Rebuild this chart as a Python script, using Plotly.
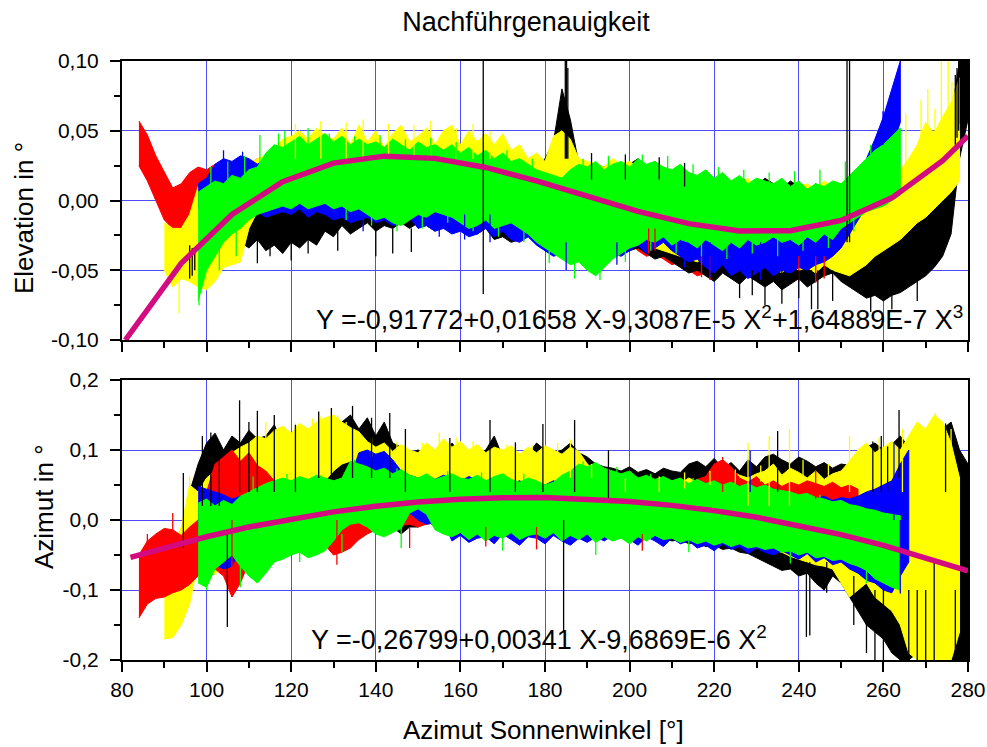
import plotly.graph_objects as go

# ---------------- data (values in milli-degrees) ----------------
# Elevation panel: bands (upper / lower envelope), sampled every 2 deg from the start value
el_red_x0 = 84
el_red_hi = [57, 47, 32, 20, 9, 12, 20, 24, 22, 26,
             24, 22, 28, 26, 30, 28, 27, 30, 28, 30,
             26, 32, 34, 38, 36, 40, 44, 42, 40, 38,
             42, 36, 30, 34, 28, 30, 26, 24, 22, 20,
             24, 18, 22, 16, 18, 14, 16, 20, 22, 18,
             24, 20, 22, 24, 20, 22, 18, 24, 26, 20,
             16, 12, 14, 10, 8, 6, 4, 6, 2, 8,
             14, 10, 6, 12, 4, 8, 2, 6, -2, 4,
             0, -4, -8]
el_red_lo = [25, 14, 0, -14, -20, -22, -12, -8, -6, -10,
             -8, -12, -6, -10, -4, -8, -6, -2, -8, -4,
             -6, -2, -6, -4, -8, -6, -10, -8, -12, -6,
             -10, -12, -14, -10, -8, -12, -10, -14, -16, -12,
             -18, -20, -16, -22, -18, -24, -20, -26, -28, -24,
             -30, -26, -28, -24, -30, -32, -28, -34, -30, -36,
             -40, -38, -42, -46, -44, -50, -54, -52, -56, -50,
             -46, -52, -48, -54, -50, -56, -52, -58, -54, -56,
             -52, -54, -50]

el_yel_x0 = 90
el_yel_hi = [-16, -20, -20, -10, 10, 14, 18, 20, 22, 24,
             26, 30, 32, 36, 44, 46, 50, 44, 52, 46,
             44, 52, 40, 54, 42, 50, 38, 48, 54, 42,
             46, 52, 40, 50, 54, 40, 50, 42, 48, 40,
             48, 36, 40, 30, 34, 28, 46, 50, 44, 30,
             28, 26, 24, 30, 26, 28, 24, 22, 26, 20,
             18, 16, 20, 14, 12, 16, 10, 14, 12, 16,
             8, 12, 10, 14, 6, 10, 12, 8, 14, 10,
             12, 16, 14, 18, 16, 20, 24, 22, 30, 40,
             56, 48, 60, 70, 88]
el_yel_lo = [-50, -62, -56, -58, -62, -64, -58, -48, -46, -44,
             -20, -8, -4, -4, -2, -2, -4, -2, -6, -2,
             -6, -2, -4, -6, -2, -4, -2, -6, -4, -2,
             -6, -4, -8, -6, -4, -10, -8, -12, -10, -14,
             -12, -16, -14, -12, -10, -14, -12, -16, -18, -20,
             -22, -24, -26, -22, -28, -24, -30, -32, -34, -36,
             -38, -40, -42, -44, -40, -46, -44, -48, -42, -46,
             -50, -44, -48, -52, -46, -50, -48, -52, -46, -50,
             -52, -54, -50, -46, -40, -36, -32, -28, -22, -16,
             -12, -6, 0, 6, 14]

el_blk_x0 = 108
el_blk_hi = [-4, 0, -2, 0, 2, 4, 0, 6, 4, 8,
             6, 10, 8, 10, 12, 8, 10, 6, 8, 10,
             12, 8, 10, 8, 6, 10, 8, 6, 4, 8,
             10, 14, 16, 18, 20, 24, 30, 42, 80, 58,
             26, 22, 26, 24, 28, 22, 26, 30, 24, 28,
             22, 20, 24, 18, 16, 20, 14, 18, 12, 16,
             14, 10, 16, 12, 8, 14, 10, 6, 12, 8,
             4, -2, -10, -20, -24, -22, -26, -20, -18, -14,
             -12, -8, 0, 10, 60, 100, 112]
el_blk_lo = [-30, -34, -28, -36, -32, -38, -30, -34, -28, -32,
             -22, -26, -18, -24, -20, -16, -22, -18, -20, -16,
             -20, -16, -18, -22, -16, -20, -18, -22, -24, -20,
             -28, -26, -30, -28, -26, -24, -20, -16, -18, -22,
             -26, -30, -28, -32, -30, -34, -36, -34, -38, -42,
             -40, -44, -48, -52, -50, -54, -58, -52, -56, -60,
             -54, -58, -62, -58, -64, -60, -56, -62, -58, -54,
             -52, -58, -62, -66, -70, -68, -72, -68, -66, -62,
             -58, -54, -48, -40, -24, 30, 58]

el_blu_x0 = 98
el_blu_hi = [12, 16, 26, 30, 28, 32, 30, 26, 30, 24,
             20, 22, 18, 24, 20, 26, 22, 24, 20, 22,
             20, 24, 22, 18, 22, 20, 24, 18, 22, 20,
             18, 22, 20, 16, 18, 14, 16, 12, 10, 12,
             14, 10, 12, 16, 14, 10, 12, 14, 12, 10,
             14, 12, 16, 10, 14, 12, 10, 8, 12, 6,
             10, 4, 8, 6, 2, 6, 4, 8, 2, 6,
             4, 8, 2, 6, 4, 8, 10, 14, 18, 30,
             44, 60, 80, 100]
el_blu_lo = [-6, -8, -4, -10, -8, -6, -10, -8, -12, -10,
             -8, -10, -6, -12, -8, -10, -14, -12, -16, -14,
             -12, -16, -14, -18, -16, -12, -20, -18, -22, -20,
             -24, -22, -26, -24, -20, -26, -22, -28, -30, -26,
             -32, -36, -40, -38, -44, -42, -46, -40, -44, -38,
             -40, -36, -32, -38, -34, -30, -36, -40, -44, -42,
             -48, -52, -46, -54, -50, -56, -52, -48, -54, -50,
             -52, -48, -50, -46, -44, -40, -34, -24, -14, -4,
             8, 22, 38, 56]

el_grn_x0 = 98
el_grn_hi = [6, 10, 14, 12, 18, 16, 22, 24, 34, 40,
             38, 42, 46, 40, 44, 48, 42, 46, 40, 44,
             40, 42, 38, 44, 40, 36, 42, 38, 40, 36,
             40, 34, 38, 32, 36, 30, 34, 28, 30, 26,
             22, 20, 18, 16, 22, 26, 24, 28, 22, 26,
             28, 24, 30, 26, 28, 24, 22, 26, 20, 18,
             22, 16, 20, 14, 18, 12, 16, 14, 12, 16,
             10, 14, 8, 12, 10, 14, 12, 18, 24, 30,
             36, 40, 46, 52]
el_grn_lo = [-72, -50, -40, -30, -24, -20, -14, -10, -8, -6,
             -4, -6, -2, -6, -4, -2, -6, -4, -8, -6,
             -10, -14, -12, -16, -18, -14, -10, -12, -8, -10,
             -12, -16, -20, -18, -14, -20, -18, -16, -20, -24,
             -30, -34, -38, -42, -46, -44, -50, -54, -48, -42,
             -38, -34, -32, -28, -30, -26, -32, -28, -30, -34,
             -28, -32, -36, -30, -34, -28, -32, -30, -26, -30,
             -28, -32, -26, -30, -24, -28, -20, -16, -12, -8,
             -6, -4, 0, 4]

# Elevation panel: single spikes (x, from, to)
el_spk_blk_x = [96.0, 96.6, 97.2, 112, 115, 120, 124, 131, 140, 144, 148.4, 165.4,
                184.8, 185.1, 185.4, 226, 229, 232, 236, 240, 243, 244.5, 248,
                251.4, 252.0, 257, 262, 268, 277.0, 277.4, 277.8, 278.2, 278.6,
                279.0, 279.4, 279.8, 191, 199, 207, 213]
el_spk_blk_a = [-32, -34, -36, -20, -20, -20, -20, -20, -20, -20, -20, -67,
                30, 30, 30, -50, -50, -50, -50, -50, -50, -50, -50,
                -30, -30, -60, -60, -50, 40, 45, 50, 55, 60, 60, 65, 70,
                15, 15, 15, 10]
el_spk_blk_b = [-56, -54, -50, -45, -40, -43, -38, -36, -40, -38, -37, 105,
                105, 105, 95, -70, -68, -75, -74, -70, -78, -78, -72,
                105, 105, -80, -78, -72, 90, 95, 105, 100, 105, 105, 105, 105,
                34, 33, 31, 27]
el_spk_yel_x = [93.5, 121, 127, 133, 137, 143, 149, 153, 159, 163, 167,
                265.3, 268.9, 270.5, 272.2, 273.7, 275.3, 276.2]
el_spk_yel_a = [-50, 30, 30, 30, 30, 30, 30, 30, 30, 30, 30,
                10, 20, 30, 40, 50, 60, 60]
el_spk_yel_b = [-81, 55, 57, 56, 58, 55, 54, 57, 52, 55, 50,
                62, 72, 80, 66, 100, 105, 85]
el_spk_grn_x = [98.2, 112.6, 118.5, 124,
                101, 105, 109, 117, 129, 135, 141, 147, 153, 159, 171, 177,
                189, 195, 203, 209, 215, 221, 227, 233, 239, 245, 251, 257,
                103, 107, 133, 139, 145, 151, 157, 163, 169, 175, 181, 187,
                193, 199, 205, 211, 217, 223, 229, 235, 241, 247, 253]
el_spk_grn_a = [-50, 20, 30, 30,
                10, 10, 10, 30, 30, 30, 30, 30, 30, 30, 20, 10,
                10, 10, 20, 20, 10, 10, 10, 10, 5, 5, 10, 20,
                -30, -20, -4, -8, -10, -8, -8, -10, -14, -20, -30, -40,
                -40, -30, -22, -24, -26, -24, -24, -22, -20, -18, -10]
el_spk_grn_b = [-75, 47, 50, 52,
                24, 28, 32, 48, 48, 46, 47, 44, 45, 42, 36, 30,
                30, 32, 33, 32, 26, 24, 22, 20, 21, 22, 28, 40,
                -50, -40, -14, -18, -22, -20, -16, -22, -26, -30, -45, -56,
                -57, -44, -36, -38, -40, -42, -38, -40, -36, -34, -22]
el_spk_blu_x = [104, 108.5, 259.9, 137, 155, 161, 167, 185, 197, 213, 219, 231, 237]
el_spk_blu_a = [20, 20, 40, -10, -10, -10, -10, -30, -30, -30, -30, -30, -30]
el_spk_blu_b = [36, 35, 64, -22, -26, -28, -30, -50, -46, -48, -55, -57, -52]
el_spk_red_x = [204.5, 206, 217, 219, 240, 244, 246]
el_spk_red_a = [-20, -20, -40, -40, -40, -40, -40]
el_spk_red_b = [-38, -36, -55, -57, -58, -59, -56]

# Azimut panel bands
az_red_x0 = 84
az_red_hi = [-50, -30, -20, -12, -14, -22, -10, 0, 40, 80,
             90, 100, 84, 96, 78, 70, 56, 50, 46, 44,
             48, 42, 44, 40, 36, 40, 36, 38, 34, 40,
             50, 46, 40, 44, 38, 42, 36, 40, 34, 38,
             36, 40, 34, 38, 32, 36, 40, 34, 38, 32,
             36, 30, 34, 28, 32, 30, 28, 34, 30, 36,
             40, 44, 50, 46, 54, 50, 58, 62, 80, 86,
             76, 60, 54, 62, 50, 56, 48, 54, 50, 56,
             52, 48, 54, 46, 50, 44]
az_red_lo = [-140, -120, -112, -110, -104, -100, -92, -80, -60, -70,
             -80, -110, -90, -60, -50, -40, -30, -36, -24, -30,
             -24, -30, -36, -50, -46, -40, -28, -20, -14, -16,
             -12, -8, -6, -10, -6, -4, -8, -6, -10, -8,
             -6, -10, -8, -12, -6, -10, -8, -12, -10, -14,
             -10, -14, -12, -16, -14, -18, -16, -20, -18, -22,
             -20, -24, -22, -26, -24, -28, -26, -30, -28, -32,
             -30, -34, -32, -36, -34, -38, -36, -40, -38, -42,
             -40, -44, -42, -46, -44, -48]

az_yel_x0 = 90
az_yel_hi = [-60, -40, -10, 50, 40, 60, 70, 84, 96, 104,
             110, 120, 116, 128, 134, 124, 138, 130, 140, 146,
             150, 140, 132, 126, 112, 104, 110, 98, 108, 100,
             96, 110, 100, 116, 104, 112, 100, 108, 96, 104,
             100, 106, 94, 104, 96, 106, 100, 94, 104, 98,
             80, 70, 60, 56, 50, 54, 48, 52, 46, 50,
             56, 52, 60, 54, 62, 58, 66, 70, 64, 60,
             66, 70, 80, 64, 74, 68, 60, 70, 58, 66,
             70, 84, 100, 110, 96, 104, 112, 100, 120, 140,
             130, 150, 140, 110, 60]
az_yel_lo = [-170, -168, -150, -120, -60, -72, -78, -60, -40, -30,
             -10, 10, 20, 30, 40, 44, 50, 48, 52, 56,
             70, 80, 84, 80, 60, 50, 44, 40, 46, 42,
             40, 44, 38, 42, 36, 48, 50, 46, 52, 48,
             40, 36, 24, -4, -10, -6, -12, -4, 10, 20,
             20, 16, 10, 6, 0, -4, -10, -6, -14, -10,
             -16, -12, -20, -18, -24, -22, -28, -30, -26, -34,
             -40, -36, -44, -46, -52, -56, -60, -64, -66, -70,
             -90, -110, -100, -90, -110, -120, -130, -150, -190, -200,
             -200, -200, -200, -200, -160]

az_blk_x0 = 96
az_blk_hi = [40, 80, 110, 124, 100, 120, 110, 128, 116, 120,
             136, 110, 120, 106, 118, 130, 110, 122, 140, 150,
             130, 146, 120, 140, 110, 104, 96, 100, 94, 100,
             90, 110, 96, 88, 94, 100, 120, 90, 96, 88,
             94, 110, 100, 96, 100, 110, 96, 90, 80, 76,
             74, 70, 76, 68, 72, 66, 74, 70, 68, 80,
             84, 76, 88, 74, 82, 70, 86, 76, 90, 94,
             86, 80, 90, 84, 76, 82, 74, 80, 78, 96,
             104, 110, 100, 108, 120, 104, 100, 110, 120, 130,
             140, 100, 80]
az_blk_lo = [-50, -40, -40, -50, -60, -50, -70, -50, -40, -30,
             -60, -50, -40, -30, -20, -10, 0, 10, 20, 30,
             20, 0, -20, -10, -10, -20, -10, -10, 0, -10,
             -10, 0, -10, -10, 0, -10, -10, 0, -10, -10,
             -10, -14, -10, -14, -20, -12, -14, -16, -12, -20,
             -16, -20, -18, -24, -20, -26, -24, -30, -28, -34,
             -32, -38, -36, -42, -40, -46, -48, -54, -60, -66,
             -72, -70, -80, -76, -90, -100, -80, -90, -110, -130,
             -150, -160, -170, -190, -200, -200, -190, -200, -200, -200,
             -200, -200, -200]

az_blu_x0 = 98
az_blu_hi = [48, 44, 40, 36, 30, 34, 28, 30, 26, 20,
             24, 20, 26, 34, 42, 50, 54, 52, 60, 96,
             100, 94, 98, 86, 70, 64, 60, 62, 58, 64,
             60, 56, 62, 58, 54, 60, 56, 52, 56, 50,
             54, 50, 56, 52, 48, 54, 50, 46, 52, 48,
             56, 52, 48, 54, 50, 46, 52, 48, 44, 50,
             46, 52, 48, 40, 44, 38, 42, 36, 40, 34,
             38, 32, 36, 30, 34, 28, 32, 30, 34, 40,
             44, 50, 56, 80, 100]
az_blu_lo = [-10, -30, -64, -70, -66, -40, -30, -20, -14, -18,
             -18, -14, -10, -6, 0, 10, 26, 30, 34, 50,
             50, 56, 60, 40, 20, 10, 0, -6, -4, 0,
             -30, -22, -32, -26, -24, -34, -20, -28, -36, -24,
             -26, -34, -22, -30, -36, -26, -32, -24, -30, -22,
             -20, -28, -36, -24, -30, -38, -26, -34, -30, -40,
             -36, -44, -34, -42, -38, -48, -40, -46, -50, -44,
             -50, -56, -48, -60, -54, -64, -60, -70, -76, -86,
             -90, -100, -104, -80, -60]

az_grn_x0 = 98
az_grn_hi = [24, 30, 20, 28, 22, 34, 40, 46, 52, 56,
             60, 56, 62, 58, 64, 60, 56, 60, 84, 80,
             76, 70, 74, 66, 72, 64, 60, 66, 58, 62,
             66, 60, 58, 64, 56, 62, 66, 58, 54, 60,
             56, 50, 54, 64, 70, 80, 76, 82, 74, 70,
             66, 70, 60, 64, 58, 62, 56, 60, 52, 58,
             52, 56, 50, 54, 48, 52, 46, 50, 44, 42,
             40, 36, 38, 32, 30, 26, 28, 22, 20, 16,
             14, 10, 8, 6]
az_grn_lo = [-90, -96, -70, -60, -50, -66, -80, -90, -76, -60,
             -56, -50, -46, -54, -50, -44, -30, -14, -6, -4,
             -10, -20, -24, -18, -12, 10, 16, 8, -14, -20,
             -24, -18, -28, -20, -30, -22, -26, -18, -28, -22,
             -20, -26, -18, -30, -22, -28, -20, -32, -24, -30,
             -26, -34, -24, -30, -22, -28, -26, -32, -28, -34,
             -30, -36, -32, -38, -34, -40, -38, -42, -40, -46,
             -44, -50, -46, -54, -52, -58, -56, -62, -66, -72,
             -84, -90, -96, -100]

# Azimut panel spikes
az_spk_blk_x = [94.5, 99, 101, 103, 104.9, 107.8, 110, 112, 116, 121, 126.5, 129.5,
                134.5, 139, 143.3, 147, 157.5, 167, 173, 179.5, 184.4, 187, 195,
                235, 241.8, 242.6, 246.6, 253, 256, 257.5, 258, 259.5, 260, 261,
                263.7, 266, 268, 270, 272, 274.7, 277, 279]
az_spk_blk_a = [-40, 20, 20, 20, -20, 40, 40, 40, 40, 40, 60, 60,
                60, 60, 60, 40, 40, 40, 40, 40, 0, 40, 30,
                40, -60, -60, -60, -80, -100, 40, -100, 40, -100, 40,
                60, -100, -100, -100, -60, 40, -100, -50]
az_spk_blk_b = [67, 120, 125, 110, -153, 171, 140, 156, 150, 136, 155, 160,
                163, 146, 153, 130, 117, 143, 111, 137, -160, 143, 100,
                127, -167, -165, -104, -150, -190, 112, -200, 120, -200, 105,
                157, -200, -200, -200, -200, 138, -200, -200]
az_spk_yel_x = [96, 114, 125, 131, 155, 186, 228, 233, 237.8, 252, 264.5, 268, 272.3, 276,
                117, 121, 127, 133, 139, 145, 151, 159, 163, 171, 177, 183,
                191, 199, 207, 213, 219, 225, 231, 241, 247, 255, 259]
az_spk_yel_a = [0, 80, 80, 100, 80, 60, 20, 20, 20, 40, 40, 40, 40, 40,
                110, 110, 120, 110, 90, 90, 90, 90, 90, 85, 85, 85,
                60, 40, 40, 45, 50, 50, 55, 60, 60, 80, 90]
az_spk_yel_b = [62, 140, 145, 150, 125, 115, 110, 120, 130, 120, 130, 140, 153, 130,
                130, 138, 148, 140, 118, 112, 110, 118, 112, 108, 106, 110,
                80, 60, 62, 68, 70, 72, 78, 86, 80, 105, 118]
az_spk_red_x = [86, 92, 106, 130.8, 148, 166, 178, 203, 222, 244]
az_spk_red_a = [-60, -40, 0, 0, -10, -10, -10, -20, 40, 30]
az_spk_red_b = [-20, 10, -110, -64, -40, -38, -42, -44, 90, 70]
az_spk_blu_x = [228.5, 262.5, 264]
az_spk_blu_a = [40, 0, 0]
az_spk_blu_b = [99, 110, -105]
az_spk_grn_x = [100, 108, 122, 132, 146, 170, 192, 214, 238, 256,
                111, 119, 127, 135, 145, 157, 165, 175, 189, 197, 205, 215, 225, 235, 245]
az_spk_grn_a = [-60, -60, -40, -20, -10, -20, -20, -20, -40, -60,
                40, 40, 40, 60, 50, 40, 40, 40, 60, 50, 40, 40, 35, 25, 15]
az_spk_grn_b = [-100, -96, -60, -46, -40, -44, -50, -46, -62, -90,
                62, 66, 64, 86, 74, 70, 68, 66, 84, 76, 66, 60, 56, 48, 36]

# Fit curves (degrees)
el_fit_x = [80.8, 94, 106, 118, 130, 142, 154, 166, 178, 190, 202, 214, 226, 238, 250, 262, 274, 280]
el_fit_y = [-0.100, -0.045, -0.010, 0.0135, 0.0268, 0.0318, 0.0302, 0.0237, 0.0141, 0.0030,
            -0.0078, -0.0166, -0.0218, -0.0216, -0.0143, 0.0019, 0.0285, 0.0463]
az_fit_x = [82, 90, 100, 110, 120, 130, 140, 150, 160, 170, 180, 190, 200, 210, 220,
            230, 240, 250, 260, 270, 280]
az_fit_y = [-0.0535, -0.0396, -0.0239, -0.0101, 0.0017, 0.0116, 0.0196, 0.0256, 0.0296,
            0.0318, 0.0320, 0.0302, 0.0265, 0.0209, 0.0134, 0.0039, -0.0076, -0.0209,
            -0.0362, -0.0535, -0.0726]

# Axis labels / texts
x_ticks = [80, 100, 120, 140, 160, 180, 200, 220, 240, 260, 280]
el_tickvals = [-0.10, -0.05, 0.0, 0.05, 0.10]
el_ticktext = ["-0,10", "-0,05", "0,00", "0,05", "0,10"]
az_tickvals = [-0.2, -0.1, 0.0, 0.1, 0.2]
az_ticktext = ["-0,2", "-0,1", "0,0", "0,1", "0,2"]
title_text = "Nachführgenauigkeit"
el_title = "Elevation in °"
az_title = "Azimut in °"
x_title = "Azimut Sonnenwinkel [°]"
el_eq = "Y =-0,91772+0,01658 X-9,3087E-5 X<sup>2</sup>+1,64889E-7 X<sup>3</sup>"
az_eq = "Y =-0,26799+0,00341 X-9,6869E-6 X<sup>2</sup>"

# ---------------- figure ----------------
RED, YEL, BLK, BLU, GRN = "#ff0000", "#ffff00", "#000000", "#0000ff", "#00ff00"
MAG = "#d40a80"
FONT = "Liberation Sans, Arial, sans-serif"

fig = go.Figure()


def band(x0, hi, lo, color, xa, ya):
    n = min(len(hi), len(lo))
    xs = [x0 + 2 * i for i in range(n)]
    yh = [v / 1000.0 for v in hi[:n]]
    yl = [v / 1000.0 for v in lo[:n]]
    fig.add_trace(go.Scatter(x=xs + xs[::-1], y=yh + yl[::-1], fill="toself",
                             fillcolor=color, mode="lines",
                             line=dict(color=color, width=1),
                             xaxis=xa, yaxis=ya, hoverinfo="skip", showlegend=False))


def spikes(xv, a, b, color, xa, ya, w=1.3):
    xs, ys = [], []
    for xi, ai, bi in zip(xv, a, b):
        xs += [xi, xi, None]
        ys += [ai / 1000.0, bi / 1000.0, None]
    fig.add_trace(go.Scatter(x=xs, y=ys, mode="lines", line=dict(color=color, width=w),
                             xaxis=xa, yaxis=ya, hoverinfo="skip", showlegend=False,
                             connectgaps=False))


# Elevation (top) panel: axes x2 / y2
band(el_red_x0, el_red_hi, el_red_lo, RED, "x2", "y2")
band(el_blk_x0, el_blk_hi, el_blk_lo, BLK, "x2", "y2")
band(el_yel_x0, el_yel_hi, el_yel_lo, YEL, "x2", "y2")
band(el_blu_x0, el_blu_hi, el_blu_lo, BLU, "x2", "y2")
band(el_grn_x0, el_grn_hi, el_grn_lo, GRN, "x2", "y2")
spikes(el_spk_red_x, el_spk_red_a, el_spk_red_b, RED, "x2", "y2")
spikes(el_spk_yel_x, el_spk_yel_a, el_spk_yel_b, YEL, "x2", "y2")
spikes(el_spk_blu_x, el_spk_blu_a, el_spk_blu_b, BLU, "x2", "y2")
spikes(el_spk_grn_x, el_spk_grn_a, el_spk_grn_b, GRN, "x2", "y2")
spikes(el_spk_blk_x, el_spk_blk_a, el_spk_blk_b, BLK, "x2", "y2")
fig.add_trace(go.Scatter(x=el_fit_x, y=el_fit_y, mode="lines", line=dict(color=MAG, width=5.5),
                         xaxis="x2", yaxis="y2", hoverinfo="skip", showlegend=False))

# Azimut (bottom) panel
band(az_blk_x0, az_blk_hi, az_blk_lo, BLK, "x", "y")
band(az_yel_x0, az_yel_hi, az_yel_lo, YEL, "x", "y")
band(az_red_x0, az_red_hi, az_red_lo, RED, "x", "y")
band(az_blu_x0, az_blu_hi, az_blu_lo, BLU, "x", "y")
band(az_grn_x0, az_grn_hi, az_grn_lo, GRN, "x", "y")
spikes(az_spk_red_x, az_spk_red_a, az_spk_red_b, RED, "x", "y")
spikes(az_spk_yel_x, az_spk_yel_a, az_spk_yel_b, YEL, "x", "y")
spikes(az_spk_blu_x, az_spk_blu_a, az_spk_blu_b, BLU, "x", "y")
spikes(az_spk_grn_x, az_spk_grn_a, az_spk_grn_b, GRN, "x", "y")
spikes(az_spk_blk_x, az_spk_blk_a, az_spk_blk_b, BLK, "x", "y")
fig.add_trace(go.Scatter(x=az_fit_x, y=az_fit_y, mode="lines", line=dict(color=MAG, width=5.5),
                         xaxis="x", yaxis="y", hoverinfo="skip", showlegend=False))

GRID = "#4d4dff"
tickfont = dict(family=FONT, size=21, color="black")


def xaxis_cfg(anchor, labels):
    return dict(domain=[0, 1], anchor=anchor, range=[80, 280], tickvals=x_ticks,
                ticks="outside", ticklen=10, tickwidth=2, tickcolor="black",
                minor=dict(tickvals=[90, 110, 130, 150, 170, 190, 210, 230, 250, 270],
                           ticks="outside", ticklen=6, tickwidth=2, tickcolor="black",
                           showgrid=False),
                showgrid=True, gridcolor=GRID, gridwidth=1, zeroline=False,
                showline=True, linecolor="black", linewidth=2, mirror=True,
                automargin=False,
                showticklabels=labels, tickfont=tickfont)


def yaxis_cfg(dom, anchor, rng, tv, tt, minor_vals):
    return dict(domain=dom, anchor=anchor, range=rng, tickvals=tv, ticktext=tt,
                ticks="outside", ticklen=10, tickwidth=2, tickcolor="black",
                minor=dict(tickvals=minor_vals, ticks="outside", ticklen=6, tickwidth=2,
                           tickcolor="black", showgrid=False),
                showgrid=True, gridcolor=GRID, gridwidth=1, zeroline=False,
                showline=True, linecolor="black", linewidth=2, mirror=True,
                automargin=False, ticklabelstandoff=7,
                tickfont=tickfont)


L, R, T, B = 122, 19, 61, 87
W, H = 987, 747
PH = H - T - B
PW = W - L - R


def px_x(p):
    return (p - L) / PW


def px_y(p):
    return (H - B - p) / PH


fig.update_layout(
    width=W, height=H,
    margin=dict(l=L, r=R, t=T, b=B, autoexpand=False),
    paper_bgcolor="white", plot_bgcolor="white",
    showlegend=False,
    title=dict(text=title_text, x=526 / W, y=1 - 22 / H, xanchor="center", yanchor="middle",
               xref="container", yref="container",
               font=dict(family=FONT, size=27, color="black")),
    xaxis=xaxis_cfg("y", True),
    yaxis=yaxis_cfg([0, px_y(380)], "x", [-0.2, 0.2], az_tickvals, az_ticktext,
                    [-0.15, -0.05, 0.05, 0.15]),
    xaxis2=xaxis_cfg("y2", False),
    yaxis2=yaxis_cfg([px_y(340), 1], "x2", [-0.1, 0.1], el_tickvals, el_ticktext,
                     [-0.075, -0.025, 0.025, 0.075]),
    font=dict(family=FONT, color="black"),
)
fig.layout.xaxis2.matches = "x"

ann = [
    dict(text=el_title, x=px_x(24), y=px_y(218), textangle=-90, size=26),
    dict(text=az_title, x=px_x(44), y=px_y(507), textangle=-90, size=26),
    dict(text=x_title, x=px_x(543), y=px_y(730), size=26),
    dict(text=el_eq, x=px_x(965), y=px_y(318), xanchor="right", size=27),
    dict(text=az_eq, x=px_x(539), y=px_y(638), size=27),
]
for a in ann:
    a.setdefault("xanchor", "center")
    sz = a.pop("size")
    fig.add_annotation(xref="paper", yref="paper", showarrow=False, yanchor="middle",
                       font=dict(family=FONT, color="black", size=sz), **a)

fig.write_html("out.html")
